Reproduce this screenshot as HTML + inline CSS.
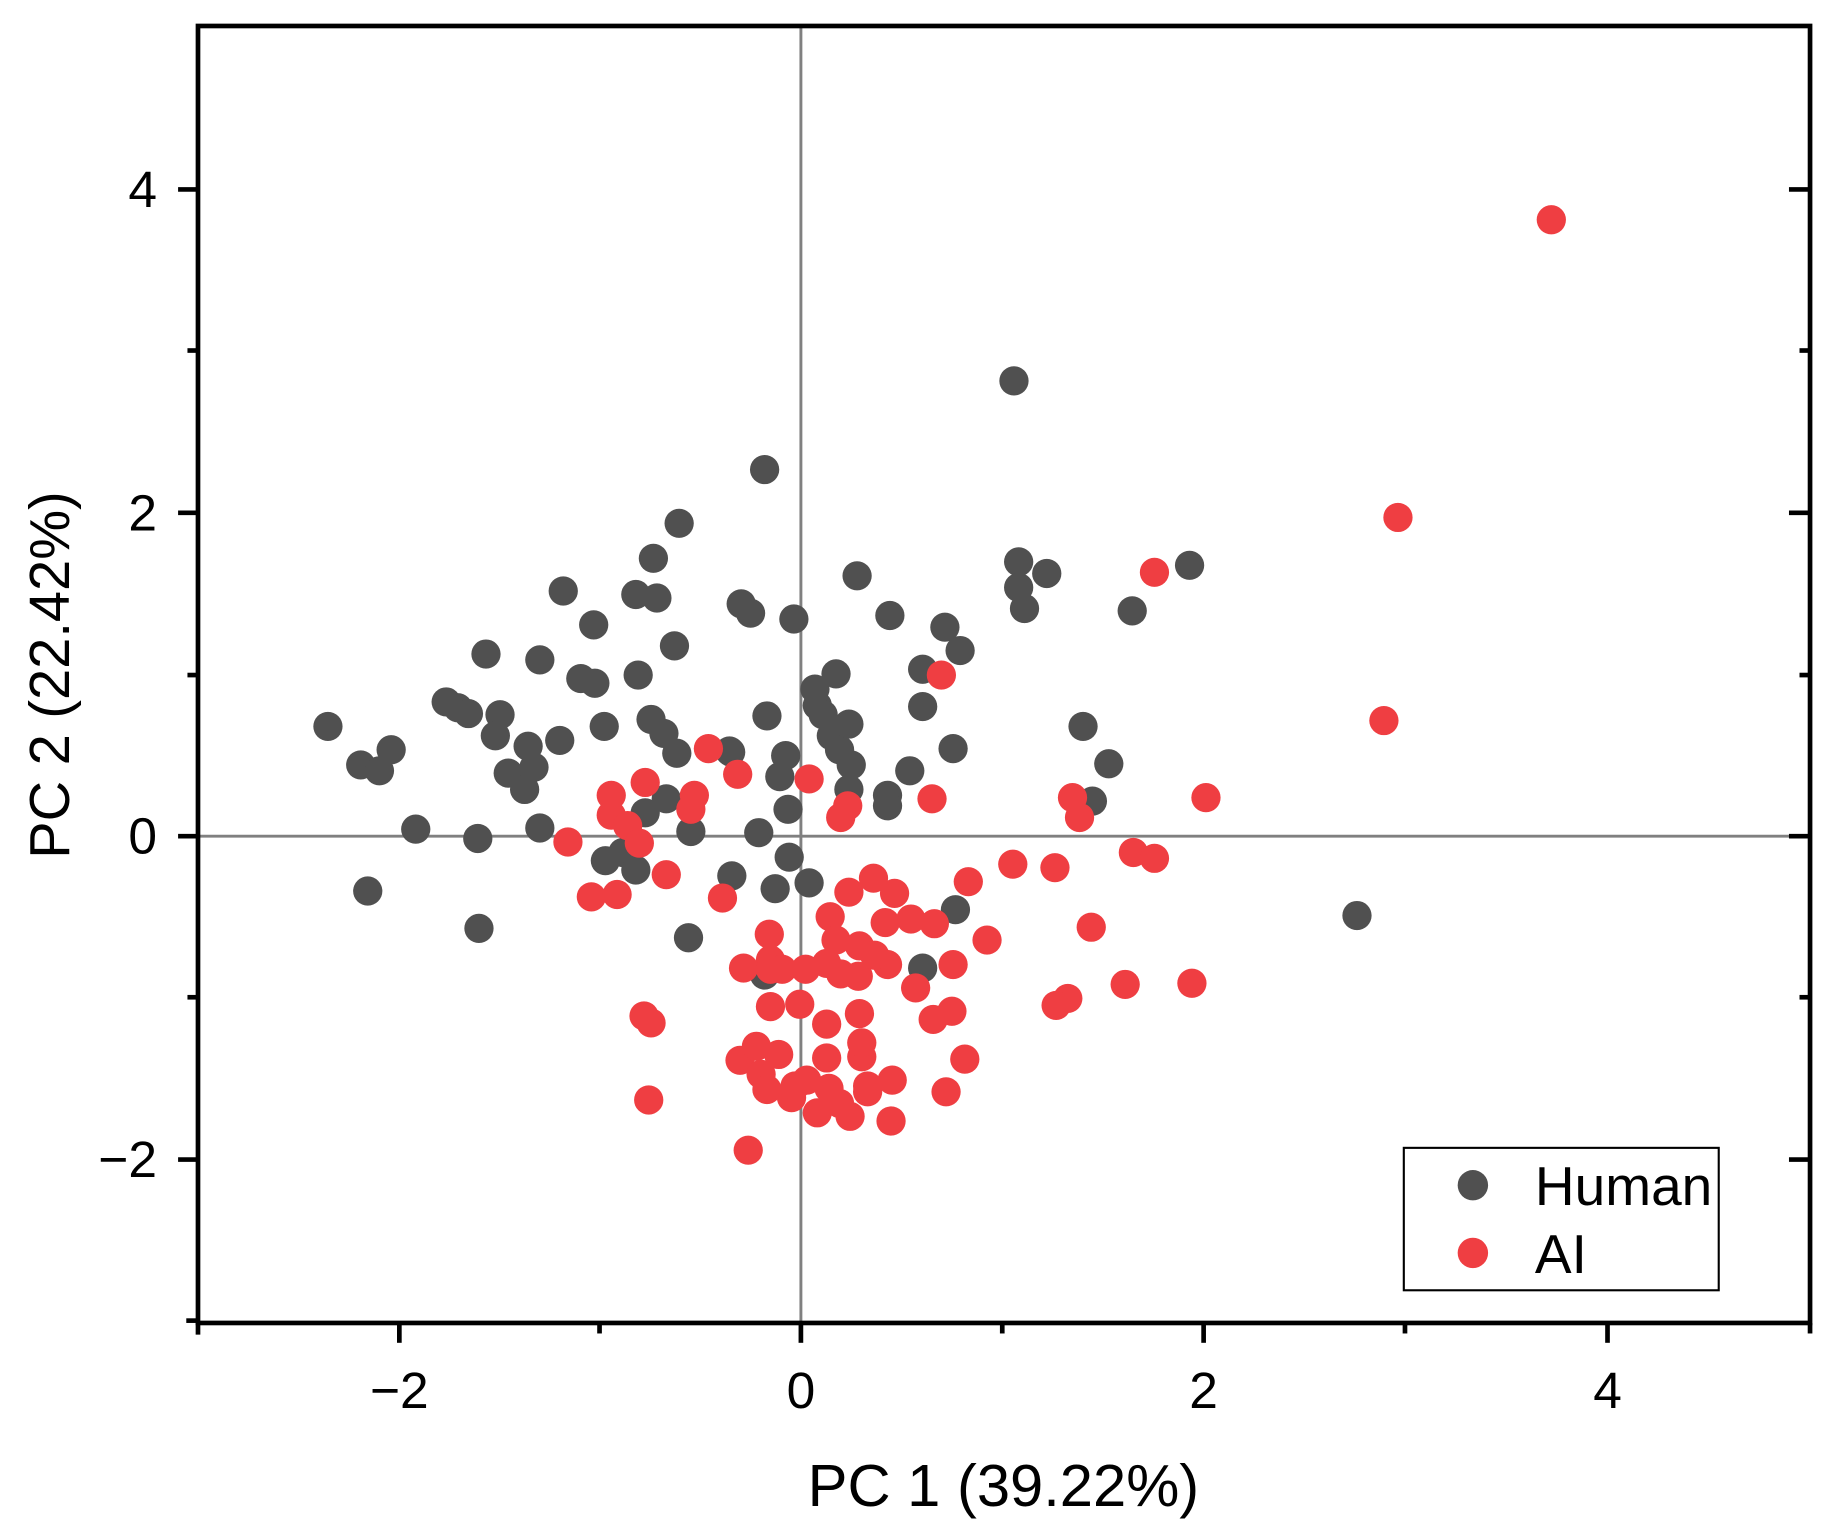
<!DOCTYPE html>
<html><head><meta charset="utf-8"><style>html,body{margin:0;padding:0;background:#fff}svg{display:block}</style></head>
<body>
<svg xmlns="http://www.w3.org/2000/svg" width="1833" height="1539" viewBox="0 0 1833 1539">
<rect width="1833" height="1539" fill="#fff"/>
<g transform="matrix(1.1707 0 0 1.1674 -2.2 0.3)">
<line x1="686" y1="22" x2="686" y2="1133" stroke="#808080" stroke-width="2.5"/>
<line x1="171" y1="716" x2="1548" y2="716" stroke="#808080" stroke-width="2.5"/>
<g fill="#505050">
<circle cx="282" cy="622" r="12.5"/><circle cx="310" cy="655" r="12.5"/><circle cx="326" cy="660" r="12.5"/><circle cx="336" cy="642" r="12.5"/><circle cx="316" cy="763" r="12.5"/><circle cx="357" cy="710" r="12.5"/><circle cx="383" cy="601" r="12.5"/><circle cx="393" cy="606" r="12.5"/><circle cx="402" cy="611" r="12.5"/><circle cx="417" cy="560" r="12.5"/><circle cx="429" cy="612" r="12.5"/><circle cx="425" cy="630" r="12.5"/><circle cx="436" cy="662" r="12.5"/><circle cx="450" cy="676" r="12.5"/><circle cx="453" cy="639" r="12.5"/><circle cx="458" cy="657" r="12.5"/><circle cx="463" cy="565" r="12.5"/><circle cx="463" cy="709" r="12.5"/><circle cx="410" cy="718" r="12.5"/><circle cx="411" cy="795" r="12.5"/><circle cx="480" cy="634" r="12.5"/><circle cx="483" cy="506" r="12.5"/><circle cx="498" cy="581" r="12.5"/><circle cx="510" cy="585" r="12.5"/><circle cx="509" cy="535" r="12.5"/><circle cx="518" cy="622" r="12.5"/><circle cx="519" cy="737" r="12.5"/><circle cx="534" cy="730" r="12.5"/><circle cx="545" cy="745" r="12.5"/><circle cx="547" cy="578" r="12.5"/><circle cx="545" cy="509" r="12.5"/><circle cx="560" cy="478" r="12.5"/><circle cx="563" cy="512" r="12.5"/><circle cx="558" cy="616" r="12.5"/><circle cx="569" cy="628" r="12.5"/><circle cx="578" cy="553" r="12.5"/><circle cx="582" cy="448" r="12.5"/><circle cx="580" cy="645" r="12.5"/><circle cx="571" cy="684" r="12.5"/><circle cx="553" cy="696" r="12.5"/><circle cx="592" cy="712" r="12.5"/><circle cx="590" cy="803" r="12.5"/><circle cx="626" cy="644" r="12.5"/><circle cx="627" cy="750" r="12.5"/><circle cx="635" cy="517" r="12.5"/><circle cx="643" cy="525" r="12.5"/><circle cx="655" cy="402" r="12.5"/><circle cx="657" cy="613" r="12.5"/><circle cx="650" cy="713" r="12.5"/><circle cx="664" cy="761" r="12.5"/><circle cx="673" cy="647" r="12.5"/><circle cx="668" cy="665" r="12.5"/><circle cx="675" cy="693" r="12.5"/><circle cx="676" cy="734" r="12.5"/><circle cx="680" cy="530" r="12.5"/><circle cx="693" cy="756" r="12.5"/><circle cx="698" cy="590" r="12.5"/><circle cx="700" cy="604" r="12.5"/><circle cx="705" cy="612" r="12.5"/><circle cx="716" cy="577" r="12.5"/><circle cx="712" cy="630" r="12.5"/><circle cx="719" cy="642" r="12.5"/><circle cx="727" cy="620" r="12.5"/><circle cx="729" cy="655" r="12.5"/><circle cx="727" cy="676" r="12.5"/><circle cx="734" cy="493" r="12.5"/><circle cx="762" cy="527" r="12.5"/><circle cx="760" cy="681" r="12.5"/><circle cx="760" cy="690" r="12.5"/><circle cx="779" cy="660" r="12.5"/><circle cx="790" cy="573" r="12.5"/><circle cx="790" cy="605" r="12.5"/><circle cx="809" cy="537" r="12.5"/><circle cx="822" cy="557" r="12.5"/><circle cx="816" cy="641" r="12.5"/><circle cx="818" cy="779" r="12.5"/><circle cx="790" cy="829" r="12.5"/><circle cx="655" cy="835" r="12.5"/><circle cx="868" cy="326" r="12.5"/><circle cx="872" cy="481" r="12.5"/><circle cx="872" cy="503" r="12.5"/><circle cx="877" cy="521" r="12.5"/><circle cx="896" cy="491" r="12.5"/><circle cx="969" cy="523" r="12.5"/><circle cx="1018" cy="484" r="12.5"/><circle cx="927" cy="622" r="12.5"/><circle cx="949" cy="654" r="12.5"/><circle cx="935" cy="686" r="12.5"/><circle cx="1161" cy="784" r="12.5"/><circle cx="625" cy="643" r="12.5"/>
</g>
<g fill="#ef3e42">
<circle cx="1327" cy="188" r="12.5"/><circle cx="1196" cy="443" r="12.5"/><circle cx="1184" cy="617" r="12.5"/><circle cx="988" cy="490" r="12.5"/><circle cx="1032" cy="683" r="12.5"/><circle cx="806" cy="578" r="12.5"/><circle cx="798" cy="684" r="12.5"/><circle cx="918" cy="683" r="12.5"/><circle cx="924" cy="700" r="12.5"/><circle cx="970" cy="730" r="12.5"/><circle cx="988" cy="735" r="12.5"/><circle cx="903" cy="743" r="12.5"/><circle cx="867" cy="740" r="12.5"/><circle cx="829" cy="755" r="12.5"/><circle cx="934" cy="794" r="12.5"/><circle cx="845" cy="805" r="12.5"/><circle cx="963" cy="843" r="12.5"/><circle cx="1020" cy="842" r="12.5"/><circle cx="914" cy="855" r="12.5"/><circle cx="904" cy="861" r="12.5"/><circle cx="816" cy="826" r="12.5"/><circle cx="799" cy="873" r="12.5"/><circle cx="815" cy="866" r="12.5"/><circle cx="826" cy="907" r="12.5"/><circle cx="810" cy="935" r="12.5"/><circle cx="763" cy="960" r="12.5"/><circle cx="764" cy="925" r="12.5"/><circle cx="743" cy="935" r="12.5"/><circle cx="738" cy="905" r="12.5"/><circle cx="738" cy="893" r="12.5"/><circle cx="736" cy="868" r="12.5"/><circle cx="784" cy="846" r="12.5"/><circle cx="800" cy="791" r="12.5"/><circle cx="780" cy="787" r="12.5"/><circle cx="766" cy="765" r="12.5"/><circle cx="748" cy="752" r="12.5"/><circle cx="727" cy="764" r="12.5"/><circle cx="711" cy="785" r="12.5"/><circle cx="758" cy="790" r="12.5"/><circle cx="760" cy="826" r="12.5"/><circle cx="735" cy="836" r="12.5"/><circle cx="720" cy="834" r="12.5"/><circle cx="708" cy="825" r="12.5"/><circle cx="716" cy="805" r="12.5"/><circle cx="736" cy="810" r="12.5"/><circle cx="749" cy="818" r="12.5"/><circle cx="726" cy="690" r="12.5"/><circle cx="720" cy="700" r="12.5"/><circle cx="693" cy="667" r="12.5"/><circle cx="607" cy="641" r="12.5"/><circle cx="632" cy="663" r="12.5"/><circle cx="595" cy="681" r="12.5"/><circle cx="592" cy="693" r="12.5"/><circle cx="553" cy="670" r="12.5"/><circle cx="524" cy="681" r="12.5"/><circle cx="524" cy="698" r="12.5"/><circle cx="538" cy="707" r="12.5"/><circle cx="548" cy="722" r="12.5"/><circle cx="487" cy="721" r="12.5"/><circle cx="507" cy="768" r="12.5"/><circle cx="529" cy="766" r="12.5"/><circle cx="571" cy="749" r="12.5"/><circle cx="619" cy="769" r="12.5"/><circle cx="659" cy="800" r="12.5"/><circle cx="660" cy="822" r="12.5"/><circle cx="637" cy="829" r="12.5"/><circle cx="660" cy="830" r="12.5"/><circle cx="670" cy="830" r="12.5"/><circle cx="690" cy="830" r="12.5"/><circle cx="685" cy="860" r="12.5"/><circle cx="660" cy="862" r="12.5"/><circle cx="552" cy="870" r="12.5"/><circle cx="558" cy="876" r="12.5"/><circle cx="556" cy="942" r="12.5"/><circle cx="641" cy="985" r="12.5"/><circle cx="634" cy="908" r="12.5"/><circle cx="648" cy="896" r="12.5"/><circle cx="652" cy="920" r="12.5"/><circle cx="667" cy="903" r="12.5"/><circle cx="657" cy="933" r="12.5"/><circle cx="678" cy="940" r="12.5"/><circle cx="681" cy="930" r="12.5"/><circle cx="700" cy="953" r="12.5"/><circle cx="710" cy="932" r="12.5"/><circle cx="719" cy="945" r="12.5"/><circle cx="708" cy="906" r="12.5"/><circle cx="708" cy="877" r="12.5"/><circle cx="728" cy="956" r="12.5"/><circle cx="743" cy="930" r="12.5"/><circle cx="691" cy="925" r="12.5"/>
</g>
<rect x="171" y="22" width="1377" height="1111" fill="none" stroke="#000" stroke-width="4"/>
<g stroke="#000" stroke-width="4">
<line x1="171" y1="1133" x2="171" y2="1143"/><line x1="343" y1="1133" x2="343" y2="1150"/><line x1="514" y1="1133" x2="514" y2="1142"/><line x1="686" y1="1133" x2="686" y2="1150"/><line x1="858" y1="1133" x2="858" y2="1142"/><line x1="1030" y1="1133" x2="1030" y2="1150"/><line x1="1202" y1="1133" x2="1202" y2="1142"/><line x1="1375" y1="1133" x2="1375" y2="1150"/><line x1="1548" y1="1133" x2="1548" y2="1142"/>
<line x1="161" y1="1131" x2="171" y2="1131"/><line x1="154" y1="993" x2="171" y2="993"/><line x1="162" y1="854" x2="171" y2="854"/><line x1="154" y1="716" x2="171" y2="716"/><line x1="162" y1="578" x2="171" y2="578"/><line x1="154" y1="439" x2="171" y2="439"/><line x1="162" y1="300" x2="171" y2="300"/><line x1="154" y1="162" x2="171" y2="162"/>
<line x1="1530" y1="993" x2="1548" y2="993"/><line x1="1539" y1="854" x2="1548" y2="854"/><line x1="1530" y1="716" x2="1548" y2="716"/><line x1="1539" y1="578" x2="1548" y2="578"/><line x1="1530" y1="439" x2="1548" y2="439"/><line x1="1539" y1="300" x2="1548" y2="300"/><line x1="1530" y1="162" x2="1548" y2="162"/>
</g>
<g font-family="Liberation Sans, Arial, sans-serif" font-size="44" fill="#000">
<g text-anchor="middle"><text x="343" y="1206">−2</text><text x="686" y="1206">0</text><text x="1030" y="1206">2</text><text x="1375" y="1206">4</text></g>
<g text-anchor="end"><text x="136" y="177">4</text><text x="136" y="454">2</text><text x="136" y="731">0</text><text x="136" y="1008">−2</text></g>
<text x="859" y="1290" text-anchor="middle" font-size="51">PC 1 (39.22%)</text>
<text transform="translate(61,578) rotate(-90)" text-anchor="middle" font-size="48">PC 2 (22.42%)</text>
</g>
<rect x="1201" y="983" width="269" height="122" fill="#fff" stroke="#000" stroke-width="1.8"/>
<circle cx="1260" cy="1015" r="13" fill="#505050"/>
<circle cx="1260" cy="1073" r="13" fill="#ef3e42"/>
<g font-family="Liberation Sans, Arial, sans-serif" font-size="47" fill="#000">
<text x="1313" y="1032">Human</text><text x="1313" y="1090">AI</text>
</g>
</g>
</svg>
</body></html>
